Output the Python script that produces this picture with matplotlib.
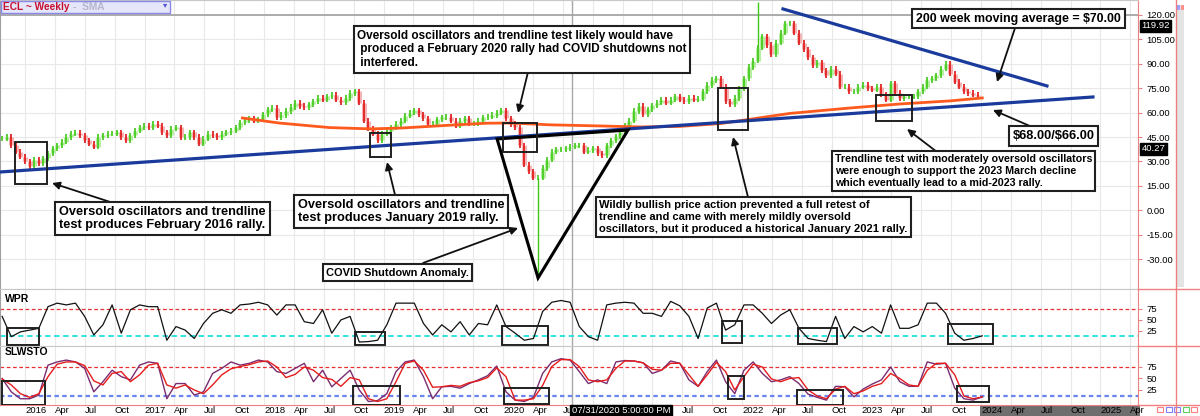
import numpy as np
import pandas as pd
import matplotlib
matplotlib.use('Agg')
import matplotlib.pyplot as plt
import matplotlib.transforms as mtransforms
from matplotlib.patches import Rectangle, Polygon
from matplotlib import font_manager

installed = {f.name for f in font_manager.fontManager.ttflist}
plt.rcParams['font.family'] = ['Liberation Sans', 'DejaVu Sans']
NOTE_FONT = 'Liberation Sans Narrow' if 'Liberation Sans Narrow' in installed else 'Liberation Sans'

close = np.array([
    44, 45, 40, 36, 33, 30, 27, 31, 29, 32,
    35, 38, 40, 42, 45, 47, 47.5, 46, 43, 41,
    39, 45, 46, 47, 47, 48, 45, 43, 46, 49,
    51, 52, 51, 53, 52, 48, 46, 50, 51, 45,
    45, 48, 45, 41, 44, 47, 46, 45, 47, 48,
    49, 51, 54, 55.5, 56.5, 55, 56, 59, 62, 63,
    57, 58.5, 61, 63.5, 66, 64, 63.5, 65, 67, 69,
    68, 70, 71, 68, 66.5, 69, 72, 73, 66, 55,
    50, 47, 43, 47, 49, 51, 53, 55, 58, 60,
    61.5, 59, 56.5, 53, 53, 56, 57, 57.5, 55, 52,
    55, 56.5, 53.5, 53.5, 55, 57, 57.5, 58.5, 60, 61.5,
    56.5, 53, 51, 40, 28, 24, 20, 20, 26, 31,
    36, 37.5, 37.5, 38, 39, 40, 40, 36, 37, 38,
    35, 34, 40, 43, 45.5, 48, 52, 55, 61, 64,
    59, 62, 64.5, 66, 67.8, 66, 68, 70, 68, 67,
    69, 68, 68.5, 73, 77, 80, 81, 76, 67, 65,
    69, 75, 81, 88, 92, 100, 107, 101.5, 96, 103,
    109, 115, 115, 109, 103, 99, 94, 89, 91, 86,
    83, 87, 84, 76, 76, 73, 73, 76, 77, 75,
    74, 76, 71, 68, 78, 72, 69, 70, 70, 70,
    73, 76, 80, 81, 83, 87, 90, 84, 79, 76,
    73, 72, 71, 70])
first_bar = '2015-10-23'
spike_idx = [117, 165]          # long wicks: COVID low and 2022 high
spike_to = [-41, 128]

sma_dates = ['2017-10-27', '2018-02-16', '2018-07-20', '2018-11-23', '2019-02-22',
             '2019-07-26', '2019-11-15', '2020-01-24', '2020-05-22', '2020-10-23',
             '2021-02-26', '2021-06-25', '2021-10-29', '2022-01-28', '2022-05-27',
             '2022-11-25', '2023-04-28', '2023-09-29', '2024-01-05']
sma200 = [56.7, 53.6, 50.8, 50, 50.5, 52.3, 53.5, 53.6, 52.5, 51.8,
          51.2, 51.5, 53.3, 56, 59.5, 62.8, 65.3, 67.2, 69]
last_price = 119.92
cursor_price = 40.27

# oscillators, sampled every 4 weeks
wpr = [58, 12, 23, 27, 31, 80, 88, 84, 88, 58,
       16, 39, 84, 20, 73, 84, 80, 80, 4, 35,
       27, 8, 42, 65, 73, 65, 84, 86, 90, 84,
       61, 84, 84, 46, 42, 73, 20, 50, 58, 0,
       1, 4, 39, 88, 88, 88, 42, 16, 39, 23,
       46, 16, 42, 39, 84, 35, 20, 4, 8, 69,
       90, 94, 90, 35, 12, 4, 84, 88, 90, 88,
       65, 65, 58, 92, 82, 58, 8, 77, 88, 27,
       39, 84, 84, 65, 42, 61, 73, 31, 8, 4,
       1, 58, 8, 35, 23, 35, 20, 84, 31, 31,
       39, 88, 88, 65, 20, 4, 8, 14]
stoch_k = [50, 21, 6, 6, 14, 79, 86, 90, 86, 72,
           21, 43, 68, 54, 47, 79, 86, 83, 6, 39,
           39, 14, 21, 61, 72, 86, 79, 83, 90, 86,
           65, 61, 72, 83, 43, 68, 32, 50, 68, 25,
           0, 2, 17, 65, 86, 90, 54, 6, 32, 33,
           29, 39, 47, 56, 77, 21, 3, 0, 9, 61,
           86, 93, 90, 65, 39, 47, 39, 86, 89, 88,
           84, 61, 68, 88, 83, 47, 33, 65, 90, 43,
           17, 68, 86, 61, 43, 47, 54, 39, 16, 9,
           3, 33, 32, 10, 27, 38, 47, 75, 43, 33,
           33, 86, 81, 83, 29, 6, 3, 10]
stoch_d = [49, 36, 17, 9, 17, 54, 81, 86, 86, 78,
           45, 36, 61, 65, 43, 58, 79, 83, 36, 29,
           36, 25, 17, 36, 58, 71, 76, 80, 86, 88,
           75, 52, 59, 75, 68, 52, 48, 33, 52, 47,
           6, 0, 6, 43, 83, 88, 68, 31, 32, 35,
           33, 41, 45, 52, 73, 54, 3, 3, 6, 35,
           76, 91, 91, 76, 47, 43, 47, 72, 88, 88,
           84, 70, 68, 83, 83, 58, 33, 58, 85, 65,
           25, 54, 81, 75, 49, 43, 50, 52, 25, 12,
           6, 27, 33, 17, 23, 33, 39, 61, 50, 36,
           33, 68, 83, 83, 58, 12, 6, 10]


def dec_year(dates):
    d = pd.DatetimeIndex(dates)
    return np.asarray(d.year + (d.dayofyear - 1) / 365.25)


t_bar = dec_year(pd.date_range(first_bar, periods=len(close), freq='14D'))
t_osc = dec_year(pd.date_range(first_bar, periods=len(wpr), freq='28D'))
t_sma = dec_year(sma_dates)

W, H = 1200, 416
fig = plt.figure(figsize=(12, 4.16), dpi=100)


def px_axes(x0, y0, x1, y1):
    return fig.add_axes([x0 / W, 1 - y1 / H, (x1 - x0) / W, (y1 - y0) / H])


ax = px_axes(0, 0, 1138, 289)
axw = px_axes(0, 289, 1138, 346)
axs = px_axes(0, 346, 1138, 405)

XMIN, XMAX = 2015.79, 2025.314
CURSOR_T = 2020.578
quarters = np.arange(2016, 2025.3, 0.25)
qlabels = [str(int(q)) if q % 1 == 0 else {0.25: 'Apr', 0.5: 'Jul', 0.75: 'Oct'}[q % 1]
           for q in quarters]
# labels hidden behind the cursor time box
for q in (2020.75, 2021.0, 2021.25):
    qlabels[list(quarters).index(q)] = ''
qlabels[list(quarters).index(2020.5)] = 'Ju'

for a in (ax, axw, axs):
    a.set_xlim(XMIN, XMAX)
    a.set_xticks(quarters)
    a.grid(True, axis='x', color='#e8e8e8', lw=0.8)
    a.set_axisbelow(True)
    a.yaxis.tick_right()
    a.tick_params(axis='y', colors='#f08080', labelcolor='black', labelsize=6.8,
                  length=3, pad=3)
    a.tick_params(axis='x', length=0)
    for s in ('top', 'bottom'):
        a.spines[s].set_color('#c8c8c8')
    a.spines['left'].set_color('#a0a0a0')
    a.spines['right'].set_color('#f08080')
    a.axvline(CURSOR_T, color='#a8a8a8', lw=1, zorder=1)

ax.tick_params(axis='x', labelbottom=False)
axw.tick_params(axis='x', labelbottom=False)
axs.set_xticklabels(qlabels, fontsize=6.8, ha='left')
axs.tick_params(axis='x', pad=1)

# ---- price panel ----
ax.set_ylim(-48.4, 129.2)
ax.set_yticks(np.arange(-30, 121, 15))
ax.set_yticklabels([f'{v:.2f}' for v in np.arange(-30, 121, 15)])
ax.grid(True, axis='y', color='#e8e8e8', lw=0.8)

WICK = 1.6   # visual tail above/below each bar
prev = np.r_[close[0], close[:-1]]
up = close >= prev
lo, hi = np.minimum(prev, close) - WICK, np.maximum(prev, close) + WICK
ax.vlines(t_bar[up], lo[up] + WICK, hi[up] - WICK, color='#b6eea0', lw=3.6, zorder=3)
ax.vlines(t_bar[~up], lo[~up] + WICK, hi[~up] - WICK, color='#f4b4b4', lw=3.6, zorder=3)
ax.vlines(t_bar[up], lo[up], hi[up], color='#3cc814', lw=1.2, zorder=4)
ax.vlines(t_bar[~up], lo[~up], hi[~up], color='#e01010', lw=1.2, zorder=4)
ax.vlines(t_bar[spike_idx], close[spike_idx], spike_to, color='#3cc814', lw=1, zorder=4)

ax.plot(t_sma, sma200, color='#ff5a1e', lw=2, zorder=5)
ax.axhline(last_price, color='#a0a0a0', lw=1.2, zorder=2)

# trendlines and the covid triangle
ax.plot([2015.79, 2024.937], [23.5, 69.6], color='#1a3a9c', lw=2.3, zorder=6)
ax.plot([2022.343, 2024.552], [123.7, 76.4], color='#1a3a9c', lw=2.3, zorder=6)
ax.add_patch(Polygon([[2019.95, 43.8], [2020.293, -41.6], [2021.046, 49.3]],
                     closed=True, fill=False, ec='black', lw=2.2, zorder=6))

box_kw = dict(fill=False, ec='#202020', lw=1.4, zorder=7)
for a, boxes in (
        (ax, [(2015.916, 16.1, 2016.184, 41.9), (2018.887, 32.7, 2019.063, 47.5),
              (2020.0, 35.8, 2020.285, 53.6), (2021.799, 49.3, 2022.05, 75.1),
              (2023.121, 54.9, 2023.423, 70.8)]),
        (axw, [(2015.849, -6.8, 2016.117, 31.8), (2018.762, -6.8, 2019.013, 22.7),
               (2019.992, -6.8, 2020.377, 36.4), (2021.833, -2.3, 2022.0, 47.7),
               (2022.469, -4.5, 2022.795, 31.8), (2023.724, -4.5, 2024.1, 40.9)]),
        (axs, [(2015.808, -7.6, 2016.167, 44.6), (2018.745, -7.6, 2019.138, 33.7),
               (2020.008, -5.4, 2020.385, 29.3), (2021.883, 5.4, 2022.017, 55.4),
               (2022.46, -7.6, 2022.845, 25.0), (2023.799, -1.1, 2024.067, 33.7)])):
    for x0, y0, x1, y1 in boxes:
        a.add_patch(Rectangle((x0, y0), x1 - x0, y1 - y0, **box_kw))

# text notes with arrows
notes = [
    ('Oversold oscillators and trendline\ntest produces February 2016 rally.',
     (2017.151, -5.1), 9.2, (2016.711, 5.1), (2016.226, 16.7)),
    ('Oversold oscillators and trendline\ntest produces January 2019 rally.',
     (2019.146, -0.8), 9.2, (2019.096, 9.4), (2019.029, 29.6)),
    ('Oversold oscillators and trendline test likely would have\n produced a February 2020 '
     'rally had COVID shutdowns not\n interfered.',
     (2020.159, 98.8), 8.5, (2020.209, 85.0), (2020.126, 59.8)),
    ('COVID Shutdown Anomaly.', (2019.117, -38.3), 7.9, (2019.331, -32.4), (2020.126, -10.9)),
    ('Wildly bullish price action prevented a full retest of\ntrendline and came with '
     'merely mildly oversold\noscillators, but it produced a historical January 2021 rally.',
     (2022.096, -4.2), 8.0, (2022.05, 8.1), (2021.925, 45.0)),
    ('Trendline test with moderately oversold oscillators\nwere enough to support the '
     '2023 March decline\nwhich eventually lead to a mid-2023 rally.',
     (2023.854, 24.1), 7.7, (2023.632, 35.8), (2023.381, 49.9)),
    ('\\$68.00/\\$66.00', (2024.607, 45.6), 9.2, (2024.427, 51.2), (2024.1, 61.6)),
    ('200 week moving average = \\$70.00', (2024.314, 117.8), 8.9, (2024.285, 112.0),
     (2024.134, 78.8)),
]
for text, pos, size, tail, head in notes:
    ax.annotate('', xy=head, xytext=tail, zorder=8,
                arrowprops=dict(arrowstyle='-|>', color='#101010', lw=1.3,
                                mutation_scale=11, shrinkA=0, shrinkB=0))
    ax.text(*pos, text, family=NOTE_FONT, fontsize=size, fontweight='bold',
            ha='center', va='center', multialignment='left', linespacing=1.2, zorder=9,
            bbox=dict(boxstyle='square,pad=0.3', fc='white', ec='#202020', lw=1.5))

# price labels on the axis
ytrans = mtransforms.blended_transform_factory(ax.transAxes, ax.transData)
ax.text(1.003, last_price - 6.5, f'{last_price:.2f}', transform=ytrans, fontsize=6.8,
        color='white', va='center', ha='left', zorder=10,
        bbox=dict(boxstyle='square,pad=0.15', fc='black', ec='black'))
ax.text(1.003, cursor_price - 2.6, f'{cursor_price:.2f}', transform=ytrans, fontsize=6.8,
        color='white', va='center', ha='left', zorder=10,
        bbox=dict(boxstyle='square,pad=0.15', fc='black', ec='black'))

# ---- WPR panel ----
axw.set_ylim(-9, 120)
axw.set_yticks([25, 50, 75])
axw.axhline(75, color='#e83030', lw=0.9, ls=(0, (3, 2)))
axw.axhline(14, color='#20e0e0', lw=1.3, ls=(0, (3, 2)))
axw.plot(t_osc, wpr, color='#111111', lw=0.9, zorder=4)
axw.text(0.004, 0.82, 'WPR', transform=axw.transAxes, fontsize=7.5, fontweight='bold',
         va='center')

# ---- SLWSTO panel ----
axs.set_ylim(-7.6, 120.6)
axs.set_yticks([25, 50, 75])
axs.axhline(75, color='#e83030', lw=0.9, ls=(0, (3, 2)))
axs.axhline(12, color='#6a86ee', lw=1.6, ls=(0, (2, 1.5)))
axs.plot(t_osc, stoch_k, color='#7a2c70', lw=1.0, zorder=4)
axs.plot(t_osc, stoch_d, color='#e61c1c', lw=1.0, zorder=5)
axs.text(0.004, 0.9, 'SLWSTO', transform=axs.transAxes, fontsize=7.5, fontweight='bold',
         va='center')
axs.spines['bottom'].set_color('#f08080')

# future part of the time axis and the cursor time label
xt = mtransforms.blended_transform_factory(axs.transData, axs.transAxes)
axs.add_patch(Rectangle((t_bar[-1] + 0.02, -0.19), XMAX - t_bar[-1], 0.19, transform=xt,
                        fc='#6e6e6e', ec='none', clip_on=False, zorder=0))
axs.text(CURSOR_T, -0.1, '07/31/2020 5:00:00 PM', transform=xt, fontsize=6.8,
         color='white', ha='left', va='center', zorder=10,
         bbox=dict(boxstyle='square,pad=0.2', fc='black', ec='black'))

# ---- chart chrome ----
fig.add_artist(plt.Line2D([1176 / W, 1176 / W], [0, 1], color='#f08080', lw=1))
for yy in (289, 346, 405):
    fig.add_artist(plt.Line2D([1138 / W, 1], [1 - yy / H] * 2, color='#f08080', lw=1))
fig.add_artist(Rectangle((1176 / W, 1 - 287 / H), 8 / W, 282 / H,
                         transform=fig.transFigure, fc='#e4e4e4', ec='none'))
fig.add_artist(Rectangle((1177 / W, 1 - 10 / H), 3 / W, 5 / H,
                         transform=fig.transFigure, fc='#a0a0ff', ec='none'))
fig.add_artist(Rectangle((1181 / W, 1 - 10 / H), 3 / W, 5 / H,
                         transform=fig.transFigure, fc='#ff9090', ec='none'))
for i, c in enumerate(['#ff8080', '#8080ff', '#8080ff', '#60d060', '#ff8080']):
    fig.add_artist(Rectangle(((1157 + 8.5 * i) / W, 1 - 412 / H), 6 / W, 5 / H,
                             transform=fig.transFigure, fc='none', ec=c, lw=0.8))

# ticker selector in the top-left corner
fig.add_artist(Rectangle((1 / W, 1 - 13 / H), 169 / W, 12.5 / H, transform=fig.transFigure,
                         fc='#e6e6fa', ec='#8a8ae6', lw=1, zorder=9))
fig.text(3 / W, 1 - 6.8 / H, 'ECL ~ Weekly', fontsize=7.3, fontweight='bold',
         color='#c8102e', va='center', ha='left', zorder=11)
fig.text(73 / W, 1 - 6.8 / H, '-  SMA', fontsize=7.3, fontweight='bold',
         color='#b4b4d0', va='center', ha='left', zorder=11)
fig.text(165 / W, 1 - 6 / H, '\u25be', fontsize=6, color='#5050d0', va='center',
         ha='center', zorder=11)

fig.savefig('out.png', dpi=100)
